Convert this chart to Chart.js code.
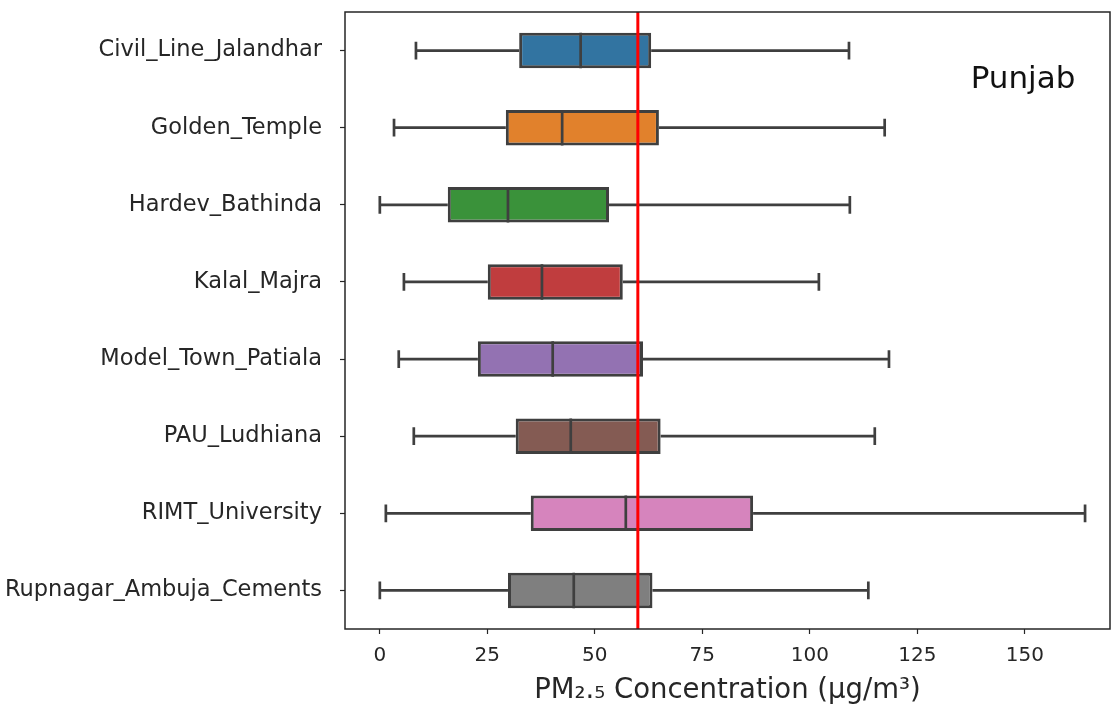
<!DOCTYPE html>
<html>
<head>
<meta charset="utf-8">
<script src="https://cdn.jsdelivr.net/npm/chart.js@4.4.0/dist/chart.umd.min.js"></script>
<style>
  html, body { margin: 0; padding: 0; background: #fff; }
  #wrap { width: 1112px; height: 707px; }
</style>
</head>
<body>
<div id="wrap"><canvas id="boxChart"></canvas></div>
<script>
const stations = ['Civil_Line_Jalandhar', 'Golden_Temple', 'Hardev_Bathinda', 'Kalal_Majra',
    'Model_Town_Patiala', 'PAU_Ludhiana', 'RIMT_University', 'Rupnagar_Ambuja_Cements'];
const whiskerLow = [8.4, 3.3, 0.0, 5.6, 4.4, 7.9, 1.4, 0.0];
const q1 = [32.4, 29.3, 15.8, 25.1, 22.8, 31.6, 35.1, 29.8];
const medians = [46.7, 42.4, 29.8, 37.7, 40.2, 44.4, 57.2, 45.1];
const q3 = [63.1, 64.9, 53.3, 56.5, 61.2, 65.3, 86.8, 63.4];
const whiskerHigh = [109.1, 117.4, 109.3, 102.1, 118.4, 115.1, 164.0, 113.6];
const xTicks = [0, 25, 50, 75, 100, 125, 150];
const limitValue = 60;
const regionLabel = 'Punjab';

const boxColors = ['#3274a1', '#e1812c', '#3a923a', '#c03d3e', '#9372b2', '#845b53', '#d684bd', '#7f7f7f'];
const edgeColor = '#3f3f3f';
const FONT = "'DejaVu Sans', sans-serif";

// whiskers, caps, medians, limit line, frame and region label
const boxExtras = {
    id: 'boxExtras',
    afterDatasetsDraw(chart) {
        const ctx = chart.ctx;
        const xs = chart.scales.x;
        const area = chart.chartArea;
        const meta = chart.getDatasetMeta(0);
        ctx.save();
        ctx.strokeStyle = edgeColor;
        ctx.lineWidth = 2.7;
        ctx.lineCap = 'butt';
        meta.data.forEach((bar, i) => {
            const y = bar.y;
            const half = bar.height / 2;
            const capHalf = half / 2;
            const xl = xs.getPixelForValue(whiskerLow[i]);
            const xq1 = xs.getPixelForValue(q1[i]);
            const xq3 = xs.getPixelForValue(q3[i]);
            const xh = xs.getPixelForValue(whiskerHigh[i]);
            const xm = xs.getPixelForValue(medians[i]);
            ctx.beginPath();
            ctx.moveTo(xl, y); ctx.lineTo(xq1, y);
            ctx.moveTo(xq3, y); ctx.lineTo(xh, y);
            ctx.moveTo(xl, y - capHalf); ctx.lineTo(xl, y + capHalf);
            ctx.moveTo(xh, y - capHalf); ctx.lineTo(xh, y + capHalf);
            ctx.moveTo(xm, y - half); ctx.lineTo(xm, y + half);
            ctx.stroke();
        });

        // limit line
        const xr = xs.getPixelForValue(limitValue);
        ctx.strokeStyle = '#ff0000';
        ctx.lineWidth = 3;
        ctx.beginPath();
        ctx.moveTo(xr, area.top);
        ctx.lineTo(xr, area.bottom);
        ctx.stroke();

        // frame
        ctx.strokeStyle = '#262626';
        ctx.lineWidth = 1.5;
        ctx.strokeRect(area.left, area.top, area.right - area.left, area.bottom - area.top);

        ctx.fillStyle = '#111';
        ctx.font = '31px ' + FONT;
        ctx.textAlign = 'center';
        ctx.textBaseline = 'alphabetic';
        ctx.fillText(regionLabel, 1023, 88);
        ctx.restore();
    }
};

new Chart(document.getElementById('boxChart'), {
    type: 'bar',
    data: {
        labels: stations,
        datasets: [{
            data: stations.map((s, i) => [q1[i], q3[i]]),
            backgroundColor: boxColors,
            borderColor: edgeColor,
            borderWidth: 3,
            borderSkipped: false,
            barPercentage: 0.46,
            categoryPercentage: 1
        }]
    },
    options: {
        indexAxis: 'y',
        responsive: true,
        maintainAspectRatio: false,
        animation: false,
        layout: { padding: { top: 12, right: 2, left: 0, bottom: 0 } },
        plugins: {
            legend: { display: false },
            tooltip: { enabled: false }
        },
        scales: {
            x: {
                min: -8.1,
                max: 169.8,
                afterBuildTicks(scale) {
                    scale.ticks = xTicks.map(v => ({ value: v }));
                },
                afterFit(scale) {
                    scale.height = 78;
                    scale.paddingLeft = 0;
                    scale.paddingRight = 0;
                },
                grid: { drawOnChartArea: false, tickLength: 5, color: '#262626', tickWidth: 1.2 },
                border: { display: false },
                ticks: { color: '#262626', font: { family: FONT, size: 20 }, padding: 10 },
                title: {
                    display: true,
                    text: 'PM₂.₅ Concentration (μg/m³)',
                    color: '#262626',
                    font: { family: FONT, size: 27.5 },
                    padding: { top: 0, bottom: 0 }
                }
            },
            y: {
                afterFit(scale) {
                    scale.width = 345;
                    scale.paddingTop = 0;
                    scale.paddingBottom = 0;
                },
                grid: { drawOnChartArea: false, offset: false, tickLength: 5, color: '#262626', tickWidth: 1.2 },
                border: { display: false },
                ticks: { color: '#262626', font: { family: FONT, size: 22.5 }, padding: 18 }
            }
        }
    },
    plugins: [boxExtras]
});
</script>
</body>
</html>
